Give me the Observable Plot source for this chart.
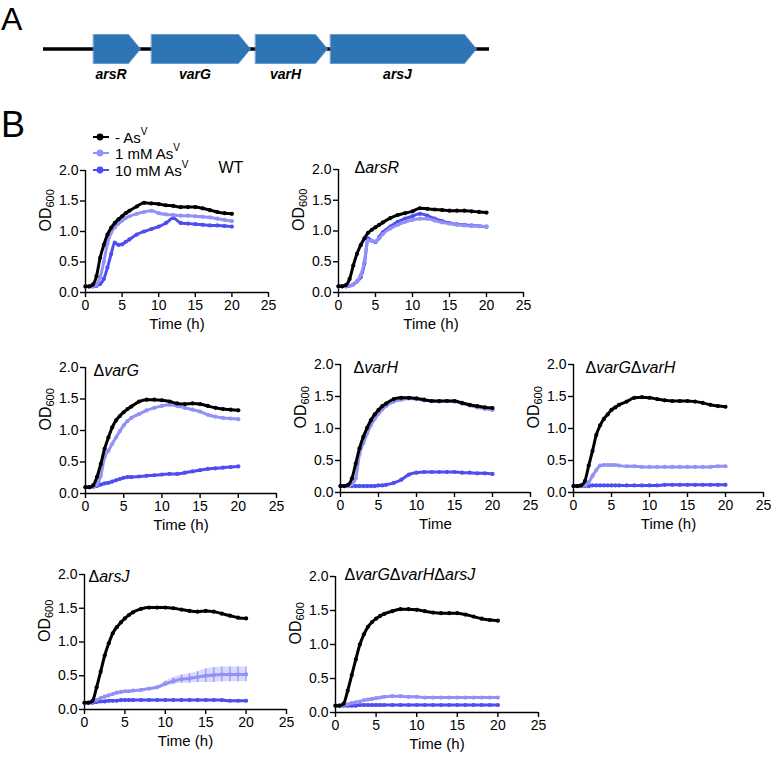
<!DOCTYPE html>
<html>
<head>
<meta charset="utf-8">
<script src="https://cdn.jsdelivr.net/npm/d3@7"></script>
<script src="https://cdn.jsdelivr.net/npm/@observablehq/plot@0.6"></script>
<style>
  html, body { margin: 0; padding: 0; background: #fff; }
  #root { position: relative; width: 771px; height: 757px; overflow: hidden; font-family: "Liberation Sans", Arial, sans-serif; color: #000; }
  .abs { position: absolute; }
  .letter { position: absolute; font-size: 34px; line-height: 1; }
  .leg { position: absolute; display: flex; align-items: center; font-size: 15px; height: 18px; white-space: nowrap; }
  .leg sup { font-size: 10px; position: relative; top: -2px; }
</style>
</head>
<body>
<div id="root"></div>
<script>
// ---------------- data ----------------
const T = [0,0.5,1,1.5,2,2.5,3,3.5,4,4.5,5,5.5,6,7,8,9,10,11,12,13,14,15,16,17,18,19,20];
const conditions = ["- AsV", "1 mM AsV", "10 mM AsV"];
const condColors = ["#000000", "#9191f7", "#4d4df1"];
const strains = ["WT", "ΔarsR", "ΔvarG", "ΔvarH", "ΔvarGΔvarH", "ΔarsJ", "ΔvarGΔvarHΔarsJ"];
const xTicks = [0, 5, 10, 15, 20, 25];
const yTicks = [0, 0.5, 1.0, 1.5, 2.0];

const wt_none  = [0.10,0.10,0.13,0.27,0.57,0.78,0.95,1.06,1.14,1.20,1.25,1.30,1.34,1.41,1.47,1.46,1.45,1.43,1.42,1.40,1.40,1.40,1.38,1.35,1.32,1.30,1.29];
const wt_1mM   = [0.10,0.10,0.10,0.13,0.25,0.50,0.80,0.98,1.07,1.13,1.18,1.22,1.25,1.29,1.32,1.34,1.30,1.28,1.27,1.26,1.26,1.25,1.24,1.23,1.21,1.19,1.17];
const wt_10mM  = [0.10,0.10,0.10,0.11,0.14,0.22,0.41,0.63,0.82,0.78,0.79,0.83,0.87,0.95,1.00,1.04,1.08,1.14,1.22,1.14,1.13,1.12,1.11,1.10,1.10,1.09,1.08];

const arsR_none = [0.10,0.10,0.12,0.22,0.44,0.63,0.77,0.88,0.97,1.02,1.06,1.10,1.14,1.21,1.26,1.29,1.32,1.37,1.36,1.35,1.34,1.33,1.33,1.33,1.32,1.31,1.30];
const arsR_1mM  = [0.10,0.10,0.10,0.11,0.13,0.18,0.28,0.50,0.85,0.84,0.83,0.88,0.95,1.04,1.10,1.15,1.18,1.20,1.20,1.17,1.14,1.12,1.10,1.09,1.08,1.08,1.07];
const arsR_10mM = [0.10,0.10,0.10,0.11,0.13,0.18,0.25,0.47,0.88,0.84,0.82,0.90,0.98,1.07,1.15,1.20,1.24,1.28,1.25,1.20,1.16,1.13,1.11,1.10,1.09,1.08,1.07];

const varG_none = [0.10,0.10,0.13,0.26,0.47,0.71,0.89,1.05,1.16,1.23,1.29,1.34,1.38,1.46,1.49,1.49,1.48,1.46,1.43,1.42,1.43,1.42,1.39,1.36,1.34,1.33,1.32];
const varG_1mM  = [0.10,0.10,0.10,0.14,0.28,0.58,0.68,0.79,0.89,0.99,1.08,1.15,1.20,1.26,1.32,1.36,1.39,1.41,1.39,1.36,1.33,1.30,1.25,1.22,1.20,1.19,1.18];
const varG_10mM = [0.10,0.10,0.11,0.12,0.14,0.16,0.17,0.19,0.21,0.23,0.25,0.26,0.26,0.27,0.28,0.29,0.30,0.31,0.31,0.33,0.35,0.37,0.39,0.40,0.41,0.42,0.43];

const varH_none = [0.10,0.10,0.12,0.22,0.45,0.69,0.87,1.01,1.13,1.22,1.29,1.35,1.39,1.46,1.48,1.48,1.47,1.45,1.43,1.43,1.43,1.43,1.40,1.37,1.35,1.33,1.32];
const varH_1mM  = [0.10,0.10,0.10,0.13,0.22,0.60,0.77,0.92,1.05,1.15,1.23,1.30,1.35,1.42,1.45,1.47,1.46,1.44,1.43,1.42,1.43,1.42,1.39,1.36,1.33,1.31,1.29];
const varH_10mM = [0.10,0.10,0.10,0.10,0.10,0.10,0.10,0.10,0.10,0.10,0.11,0.11,0.12,0.15,0.20,0.28,0.31,0.32,0.32,0.32,0.32,0.32,0.31,0.31,0.30,0.30,0.29];

const GH_none = [0.10,0.10,0.11,0.18,0.42,0.65,0.90,1.05,1.15,1.22,1.29,1.33,1.37,1.42,1.48,1.49,1.48,1.46,1.44,1.43,1.43,1.43,1.42,1.40,1.37,1.35,1.34];
const GH_1mM  = [0.10,0.10,0.10,0.11,0.16,0.26,0.35,0.42,0.43,0.43,0.43,0.43,0.42,0.41,0.41,0.40,0.40,0.40,0.40,0.40,0.40,0.40,0.40,0.40,0.40,0.41,0.41];
const GH_10mM = [0.10,0.10,0.10,0.10,0.10,0.11,0.11,0.11,0.11,0.11,0.11,0.11,0.11,0.11,0.11,0.11,0.11,0.11,0.12,0.12,0.12,0.12,0.12,0.12,0.12,0.12,0.12];

const arsJ_none = [0.10,0.10,0.13,0.33,0.56,0.80,0.98,1.13,1.22,1.29,1.35,1.40,1.44,1.49,1.51,1.51,1.51,1.50,1.48,1.46,1.45,1.46,1.45,1.42,1.39,1.36,1.35];
const arsJ_1mM  = [0.10,0.11,0.12,0.14,0.17,0.19,0.21,0.23,0.25,0.26,0.27,0.27,0.28,0.29,0.31,0.33,0.38,0.42,0.45,0.46,0.48,0.50,0.51,0.52,0.52,0.52,0.52];
const arsJ_1mM_sd = [0,0,0,0,0,0,0,0,0,0,0,0,0,0,0.01,0.02,0.04,0.05,0.06,0.07,0.08,0.10,0.11,0.11,0.11,0.11,0.11];
const arsJ_10mM = [0.10,0.10,0.10,0.11,0.12,0.12,0.13,0.13,0.13,0.14,0.14,0.14,0.14,0.14,0.14,0.14,0.14,0.14,0.14,0.14,0.14,0.14,0.14,0.14,0.13,0.13,0.13];

const GHJ_none = [0.10,0.10,0.13,0.32,0.55,0.78,1.00,1.15,1.26,1.33,1.38,1.42,1.45,1.49,1.52,1.52,1.51,1.49,1.47,1.46,1.46,1.46,1.44,1.41,1.38,1.36,1.35];
const GHJ_1mM  = [0.10,0.10,0.11,0.12,0.14,0.15,0.16,0.18,0.19,0.20,0.21,0.22,0.23,0.24,0.24,0.23,0.23,0.22,0.22,0.22,0.22,0.22,0.22,0.22,0.22,0.22,0.22];
const GHJ_10mM = [0.10,0.10,0.10,0.10,0.10,0.10,0.11,0.11,0.11,0.11,0.11,0.11,0.11,0.11,0.11,0.11,0.11,0.11,0.11,0.11,0.11,0.11,0.11,0.11,0.11,0.11,0.11];

// gene map (schematic coordinates, kb)
const genes = ["arsR", "varG", "varH", "arsJ"];
const geneStart = [0.50, 1.08, 2.12, 2.87];
const geneEnd   = [0.97, 2.07, 2.84, 4.33];
const locus = [0, 4.46];

// ---------------- layout ----------------
const seriesByStrain = [
  [wt_none, wt_1mM, wt_10mM],
  [arsR_none, arsR_1mM, arsR_10mM],
  [varG_none, varG_1mM, varG_10mM],
  [varH_none, varH_1mM, varH_10mM],
  [GH_none, GH_1mM, GH_10mM],
  [arsJ_none, arsJ_1mM, arsJ_10mM],
  [GHJ_none, GHJ_1mM, GHJ_10mM]
];
const errByStrain = [null, null, null, null, null, [null, arsJ_1mM_sd, null], null];

const layout = [
  {left: 85,  right: 268, top: 170, bottom: 292, tx: 218, ty: 161, xlabel: "Time (h)"},
  {left: 338, right: 523, top: 169, bottom: 292, tx: 354, ty: 161, xlabel: "Time (h)"},
  {left: 85,  right: 276, top: 367, bottom: 493, tx: 93,  ty: 364, xlabel: "Time (h)"},
  {left: 340, right: 530, top: 364, bottom: 492, tx: 353, ty: 361, xlabel: "Time"},
  {left: 573, right: 763, top: 364, bottom: 492, tx: 585, ty: 361, xlabel: "Time (h)"},
  {left: 84,  right: 286, top: 574, bottom: 709, tx: 88,  ty: 570, xlabel: "Time (h)"},
  {left: 335, right: 538, top: 576, bottom: 712, tx: 344, ty: 568, xlabel: "Time (h)"}
];

const root = document.getElementById("root");
const FONT = "'Liberation Sans', Arial, Helvetica, sans-serif";

function fixTexts(svg) {
  svg.querySelectorAll("text").forEach(t => {
    const s = t.textContent;
    if (s === "OD600") {
      t.textContent = "";
      const a = document.createElementNS("http://www.w3.org/2000/svg", "tspan");
      a.textContent = "OD";
      const b = document.createElementNS("http://www.w3.org/2000/svg", "tspan");
      b.textContent = "600";
      b.setAttribute("font-size", "11");
      b.setAttribute("dy", "0.35em");
      t.appendChild(a); t.appendChild(b);
    } else if (s.includes("Δ") && t.getAttribute("data-title") !== "done") {
      t.textContent = "";
      s.split(/(Δ)/).filter(p => p.length).forEach(p => {
        const sp = document.createElementNS("http://www.w3.org/2000/svg", "tspan");
        sp.textContent = p;
        sp.setAttribute("font-style", p === "Δ" ? "normal" : "italic");
        t.appendChild(sp);
      });
    }
  });
}

function place(el, left, top) {
  el.style.position = "absolute";
  el.style.left = left + "px";
  el.style.top = top + "px";
  root.appendChild(el);
}

// letters
const A = document.createElement("div"); A.className = "letter"; A.textContent = "A"; A.style.left = "1px"; A.style.top = "3px"; A.style.fontSize = "32px"; root.appendChild(A);
const B = document.createElement("div"); B.className = "letter"; B.textContent = "B"; B.style.left = "1px"; B.style.top = "107px"; B.style.fontSize = "36px"; root.appendChild(B);

// ---------------- gene map ----------------
const head = 0.12;
const geneRows = [];
genes.forEach((g, i) => {
  const s = geneStart[i], e = geneEnd[i];
  geneRows.push({g, x: s, y: -1}, {g, x: e - head, y: -1}, {g, x: e, y: 0}, {g, x: e - head, y: 1}, {g, x: s, y: 1});
});
const geneMap = Plot.plot({
  width: 771, height: 90, marginLeft: 43, marginRight: 282, marginTop: 34, marginBottom: 27,
  x: {domain: locus, axis: null}, y: {domain: [-1, 1], axis: null},
  style: {fontFamily: FONT, background: "transparent", overflow: "visible"},
  marks: [
    Plot.ruleY([0], {x1: locus[0], x2: locus[1], stroke: "#000", strokeWidth: 3.5}),
    Plot.line(geneRows, {x: "x", y: "y", z: "g", fill: "#2e75b6", stroke: "#5a93cf", strokeWidth: 0.8, curve: "linear-closed"}),
    Plot.text(genes, {x: (d, i) => (geneStart[i] + geneEnd[i] - head) / 2, y: () => -1, dy: 11, lineAnchor: "middle", text: d => d, fontSize: 14, fontWeight: "bold", fontStyle: "italic"})
  ]
});
place(geneMap, 0, 0);

// ---------------- growth panels ----------------
const ML = 60, MR = 20, MT = 30, MB = 48;
strains.forEach((strain, si) => {
  const L = layout[si];
  const rows = [];
  seriesByStrain[si].forEach((arr, ci) => {
    arr.forEach((v, k) => {
      const sd = errByStrain[si] && errByStrain[si][ci] ? errByStrain[si][ci][k] : 0;
      rows.push({t: T[k], v, c: conditions[ci], lo: v - sd, hi: v + sd, sd});
    });
  });
  const order = [2, 1, 0];
  const layered = order.map(ci => rows.filter(r => r.c === conditions[ci]));
  const errRows = rows.filter(r => r.sd > 0);
  const w = L.right - L.left, h = L.bottom - L.top;
  const marks = [
    Plot.ruleY([0], {x1: 0, x2: 25, stroke: "#000", strokeWidth: 1.4}),
    Plot.ruleX([0], {y1: 0, y2: 2, stroke: "#000", strokeWidth: 1.4}),
    Plot.axisX({ticks: xTicks, tickSize: 5, tickPadding: 3, strokeWidth: 1.4, fontSize: 14, label: null}),
    Plot.axisY({ticks: yTicks, tickSize: 5, tickPadding: 2, strokeWidth: 1.4, fontSize: 14, label: null, tickFormat: d3.format(".1f")}),
    Plot.text([L.xlabel], {frameAnchor: "bottom", dy: 36, text: d => d, fontSize: 15}),
    Plot.text(["OD600"], {frameAnchor: "left", dx: -40, rotate: -90, text: d => d, fontSize: 16}),
    Plot.text([strain], {frameAnchor: "top-left", textAnchor: "start", dx: L.tx - L.left, dy: L.ty - L.top, text: d => d, fontSize: 16})
  ];
  if (errRows.length) {
    marks.push(Plot.areaY(errRows, {x: "t", y1: "lo", y2: "hi", fill: "c", fillOpacity: 0.35, curve: "monotone-x"}));
    marks.push(Plot.ruleX(errRows, {x: "t", y1: "lo", y2: "hi", stroke: "c", strokeWidth: 1.2}));
  }
  layered.forEach(ls => {
    marks.push(Plot.line(ls, {x: "t", y: "v", stroke: "c", strokeWidth: 3, curve: "monotone-x"}));
    marks.push(Plot.dot(ls, {x: "t", y: "v", fill: "c", r: 2.1, stroke: "none"}));
  });
  const p = Plot.plot({
    width: w + ML + MR, height: h + MT + MB,
    marginLeft: ML, marginRight: MR, marginTop: MT, marginBottom: MB,
    x: {domain: [0, 25]}, y: {domain: [0, 2]},
    color: {domain: conditions, range: condColors},
    style: {fontFamily: FONT, fontSize: "14px", color: "#000", background: "transparent", overflow: "visible"},
    marks
  });
  fixTexts(p);
  place(p, L.left - ML, L.top - MT);
});

// ---------------- legend (panel WT) ----------------
const legTop = [128, 144, 161];
conditions.forEach((c, i) => {
  const d = document.createElement("div");
  d.className = "leg";
  const col = condColors[i];
  d.innerHTML = `<svg width="22" height="18" style="margin-right:3px"><line x1="3" x2="19" y1="9" y2="9" stroke="${col}" stroke-width="2"/><circle cx="10" cy="9" r="3.4" fill="${col}"/></svg>` +
    `<span>${c.replace("AsV", "As<sup>V</sup>")}</span>`;
  place(d, 90, legTop[i]);
});
</script>
</body>
</html>
